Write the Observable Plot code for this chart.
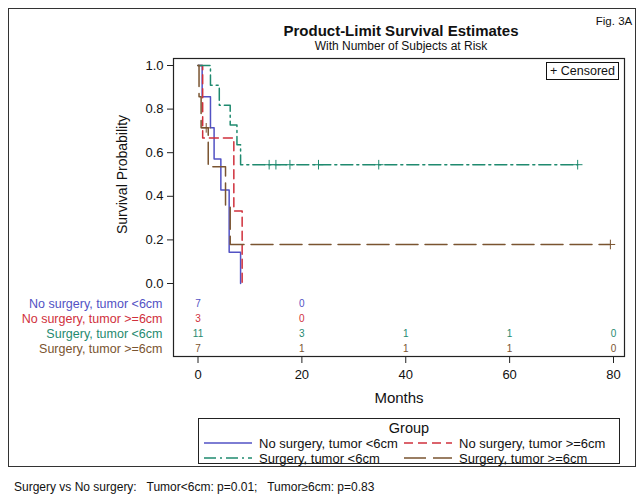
<!DOCTYPE html>
<html>
<head>
<meta charset="utf-8">
<script src="https://cdn.jsdelivr.net/npm/d3@7"></script>
<script src="https://cdn.jsdelivr.net/npm/@observablehq/plot@0.6"></script>
<style>
  html, body { margin: 0; padding: 0; background: #fff; }
  #wrap { position: relative; width: 644px; height: 501px; overflow: hidden; font-family: "Liberation Sans", Arial, sans-serif; color: #111; }
  .t { position: absolute; white-space: pre; transform: translate(-50%, -50%); line-height: 1; }
  .l { position: absolute; white-space: pre; transform: translate(0, -50%); line-height: 1; }
  #outer { position: absolute; left: 8px; top: 8px; width: 628px; height: 459px; border: 1.5px solid #333; box-sizing: border-box; }
  #cens { position: absolute; left: 546px; top: 62px; width: 73px; height: 18px; border: 1.2px solid #111; box-sizing: border-box; font-size: 12.5px; text-align: center; line-height: 16px; }
  #legend { position: absolute; left: 198px; top: 418px; width: 422px; height: 46px; border: 1.2px solid #222; box-sizing: border-box; }
  svg.plot { position: absolute; left: 0; top: 0; }
</style>
</head>
<body>
<div id="wrap">
  <div id="outer"></div>
</div>
<script>
// ---- data ----
const groups = ["No surgery, tumor <6cm", "No surgery, tumor >=6cm", "Surgery, tumor <6cm", "Surgery, tumor >=6cm"];
const colors = ["#5252c4", "#d0303c", "#1f8a6f", "#7a5430"];
const dashes = ["none", "9,5", "12,4,2,4", "22,7"];

// Kaplan-Meier step points (months, survival)
const timeNoSurgSmall = [0, 0.8, 2.4, 3.1, 4.4, 6.0, 8.2];
const survNoSurgSmall = [1, 0.857, 0.714, 0.571, 0.429, 0.143, 0];
const timeNoSurgLarge = [0, 0.9, 6.9, 8.5];
const survNoSurgLarge = [1, 0.667, 0.333, 0];
const timeSurgSmall = [0, 2.4, 4.1, 6.2, 7.5, 8.2, 73.1];
const survSurgSmall = [1, 0.909, 0.818, 0.727, 0.636, 0.545, 0.545];
const timeSurgLarge = [0, 0.2, 0.6, 1.97, 5.3, 6.2, 79.4];
const survSurgLarge = [1, 0.857, 0.714, 0.536, 0.357, 0.179, 0.179];

// censored observations
const censTimeSurgSmall = [13.7, 15.0, 17.7, 23.2, 34.8, 73.1];
const censSurvSurgSmall = [0.545, 0.545, 0.545, 0.545, 0.545, 0.545];
const censTimeSurgLarge = [1.58, 79.4];
const censSurvSurgLarge = [0.714, 0.179];

// number at risk
const riskTimes = [0, 20, 40, 60, 80];
const riskNoSurgSmall = [7, 0];
const riskNoSurgLarge = [3, 0];
const riskSurgSmall = [11, 3, 1, 1, 0];
const riskSurgLarge = [7, 1, 1, 1, 0];

const xTicks = [0, 20, 40, 60, 80];
const yTicks = [0, 0.2, 0.4, 0.6, 0.8, 1.0];

// ---- build ----
const curveT = [timeNoSurgSmall, timeNoSurgLarge, timeSurgSmall, timeSurgLarge];
const curveS = [survNoSurgSmall, survNoSurgLarge, survSurgSmall, survSurgLarge];
const risks = [riskNoSurgSmall, riskNoSurgLarge, riskSurgSmall, riskSurgLarge];
const cens = [[[], []], [[], []], [censTimeSurgSmall, censSurvSurgSmall], [censTimeSurgLarge, censSurvSurgLarge]];

const marks = [];
marks.push(Plot.frame({stroke: "#222", strokeWidth: 1.2}));
marks.push(Plot.axisY({ticks: yTicks, tickFormat: d3.format(".1f"), tickSize: 6, tickPadding: 4, fontSize: 13, label: null, stroke: "#222"}));
marks.push(Plot.axisX({ticks: xTicks, tickFormat: d3.format("d"), tickSize: 7, tickPadding: 6, fontSize: 13, label: null, stroke: "#222"}));
marks.push(Plot.text(["Survival Probability"], {text: d => d, frameAnchor: "left", textAnchor: "middle", lineAnchor: "middle", rotate: -90, dx: -51, dy: -33, fontSize: 14, fill: "#111"}));
marks.push(Plot.text(["Months"], {text: d => d, frameAnchor: "bottom", lineAnchor: "middle", dy: 42, fontSize: 15, fill: "#111"}));

groups.forEach((g, i) => {
  const pts = curveT[i].map((t, k) => ({t, s: curveS[i][k]}));
  marks.push(Plot.line(pts, {x: "t", y: "s", curve: "step-after", stroke: colors[i], strokeWidth: 1.5, strokeDasharray: dashes[i]}));
  const cp = cens[i][0].map((t, k) => ({t, s: cens[i][1][k]}));
  if (cp.length) marks.push(Plot.dot(cp, {x: "t", y: "s", symbol: "plus", r: 3.2, stroke: colors[i], strokeWidth: 1}));
  const rowDy = -52.5 + 15 * i;
  const rp = risks[i].map((n, k) => ({t: riskTimes[k], n}));
  marks.push(Plot.text(rp, {x: "t", text: d => String(d.n), frameAnchor: "bottom", lineAnchor: "middle", dy: rowDy, fontSize: 10, fill: colors[i]}));
  marks.push(Plot.text([g], {text: d => d, frameAnchor: "bottom-left", lineAnchor: "middle", dx: -11, dy: rowDy, textAnchor: "end", fontSize: 12.5, fill: colors[i]}));
});

const chart = Plot.plot({
  width: 644,
  height: 410,
  marginLeft: 173,
  marginRight: 20,
  marginTop: 58,
  marginBottom: 54,
  x: {domain: [0, 80], range: [197.5, 613]},
  y: {domain: [0, 1], range: [283, 65]},
  style: {fontFamily: "'Liberation Sans', Arial, sans-serif", background: "transparent", color: "#111"},
  marks
});
chart.classList.add("plot");
const wrap = document.getElementById("wrap");
wrap.appendChild(chart);

function addText(txt, x, y, css, cls = "t") {
  const d = document.createElement("div");
  d.className = cls;
  d.textContent = txt;
  d.style.left = x + "px";
  d.style.top = y + "px";
  Object.assign(d.style, css);
  wrap.appendChild(d);
  return d;
}
addText("Product-Limit Survival Estimates", 401, 30, {fontSize: "15px", fontWeight: "bold"});
addText("With Number of Subjects at Risk", 401, 46, {fontSize: "12px"});
addText("Fig. 3A", 614, 22, {fontSize: "11.5px"});

const c = document.createElement("div");
c.id = "cens"; c.textContent = "+ Censored";
wrap.appendChild(c);

// legend
const lg = document.createElement("div");
lg.id = "legend";
wrap.appendChild(lg);
addText("Group", 409, 428, {fontSize: "14.5px"});
const legPos = [[204, 443], [404, 443], [204, 458], [404, 458]];
groups.forEach((g, i) => {
  const [lx, ly] = legPos[i];
  const ns = "http://www.w3.org/2000/svg";
  const s = document.createElementNS(ns, "svg");
  s.setAttribute("width", 48); s.setAttribute("height", 6);
  s.style.position = "absolute"; s.style.left = lx + "px"; s.style.top = (ly - 3) + "px";
  const ln = document.createElementNS(ns, "line");
  ln.setAttribute("x1", 0); ln.setAttribute("x2", 48); ln.setAttribute("y1", 3); ln.setAttribute("y2", 3);
  ln.setAttribute("stroke", colors[i]); ln.setAttribute("stroke-width", 1.5);
  if (dashes[i] !== "none") ln.setAttribute("stroke-dasharray", dashes[i]);
  s.appendChild(ln);
  wrap.appendChild(s);
  addText(g, lx + 55, ly, {fontSize: "13px"}, "l");
});

addText("Surgery vs No surgery:   Tumor<6cm: p=0.01;   Tumor\u22656cm: p=0.83", 14, 487, {fontSize: "12px"}, "l");
</script>
</body>
</html>
